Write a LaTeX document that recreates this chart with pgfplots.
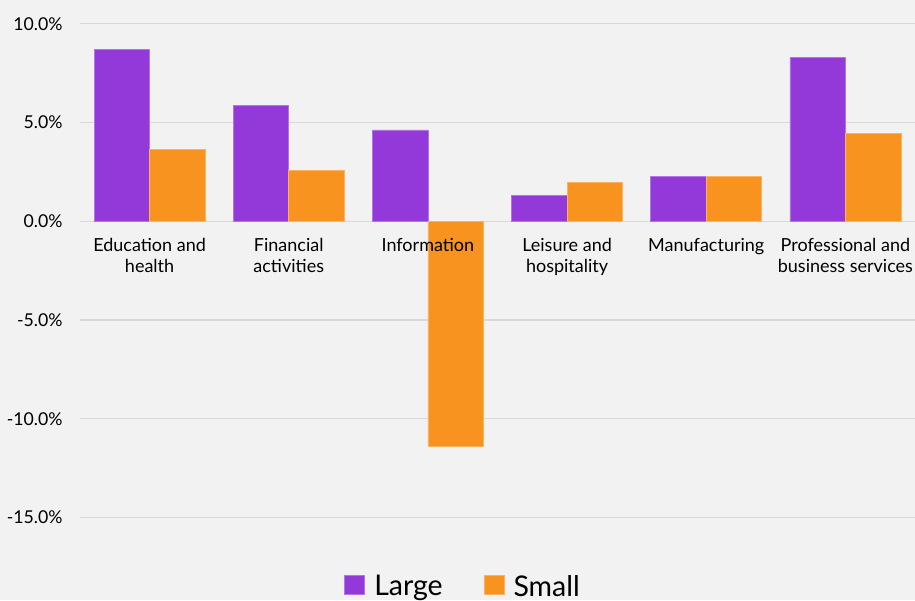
\documentclass[border=0pt]{standalone}
\usepackage{fontspec}
\setmainfont{Lato}
\usepackage{pgfplots}
\pgfplotsset{compat=1.18}
\definecolor{bg}{HTML}{F2F2F2}
\definecolor{gridc}{HTML}{D9D9D9}
\definecolor{large}{HTML}{9339DA}
\definecolor{small}{HTML}{F7931E}
\pgfplotsset{base/.style={
  at={(40pt,21.5pt)}, anchor=south west,
  scale only axis, width=417.5pt, height=278.5pt,
  xmin=-0.5, xmax=5.5, ymin=-17, ymax=11.2,
  axis line style={draw=none},
  tick style={draw=none},
  ytick={-15,-10,-5,0,5,10},
  xtick={0,...,5},
}}
\begin{document}
\begin{tikzpicture}
\useasboundingbox (0,0) rectangle (457.5pt,300pt);
\fill[bg] (0,0) rectangle (457.5pt,300pt);
\begin{axis}[
  base,
  ybar=0pt, bar width=27.75pt,
  ymajorgrids, grid style={color=gridc, line width=0.6pt},
  yticklabels={-15.0\%,-10.0\%,-5.0\%,0.0\%,5.0\%,10.0\%},
  yticklabel style={font=\fontsize{8.85}{10}\selectfont, anchor=east, inner sep=0pt, xshift=-8.5pt},
  xticklabels={},
  legend columns=2,
  legend style={at={(0.46,-0.054)}, anchor=center, draw=none, fill=none,
    font=\fontsize{14.25}{16}\selectfont,
    /tikz/every even column/.append style={column sep=18.5pt}},
  legend image code/.code={\fill[#1] (0pt,-3.5pt) rectangle (10pt,6pt); \path (12.5pt,0pt);},
]
\addplot[fill=large, draw=large!70!white, line width=0.4pt] coordinates {(0,8.71) (1,5.87) (2,4.62) (3,1.32) (4,2.28) (5,8.30)};
\addplot[fill=small, draw=small!70!white, line width=0.4pt] coordinates {(0,3.65) (1,2.58) (2,-11.39) (3,1.97) (4,2.28) (5,4.46)};
\legend{Large, Small}
\end{axis}
\begin{axis}[
  base,
  yticklabels={},
  xticklabels={Education and\\health, Financial\\activities, Information, Leisure and\\hospitality, Manufacturing, Professional and\\business services},
  xticklabel style={font=\fontsize{9}{10.5}\selectfont, align=center, anchor=north, inner sep=0pt, yshift=159.5pt},
]
\end{axis}
\end{tikzpicture}
\end{document}
